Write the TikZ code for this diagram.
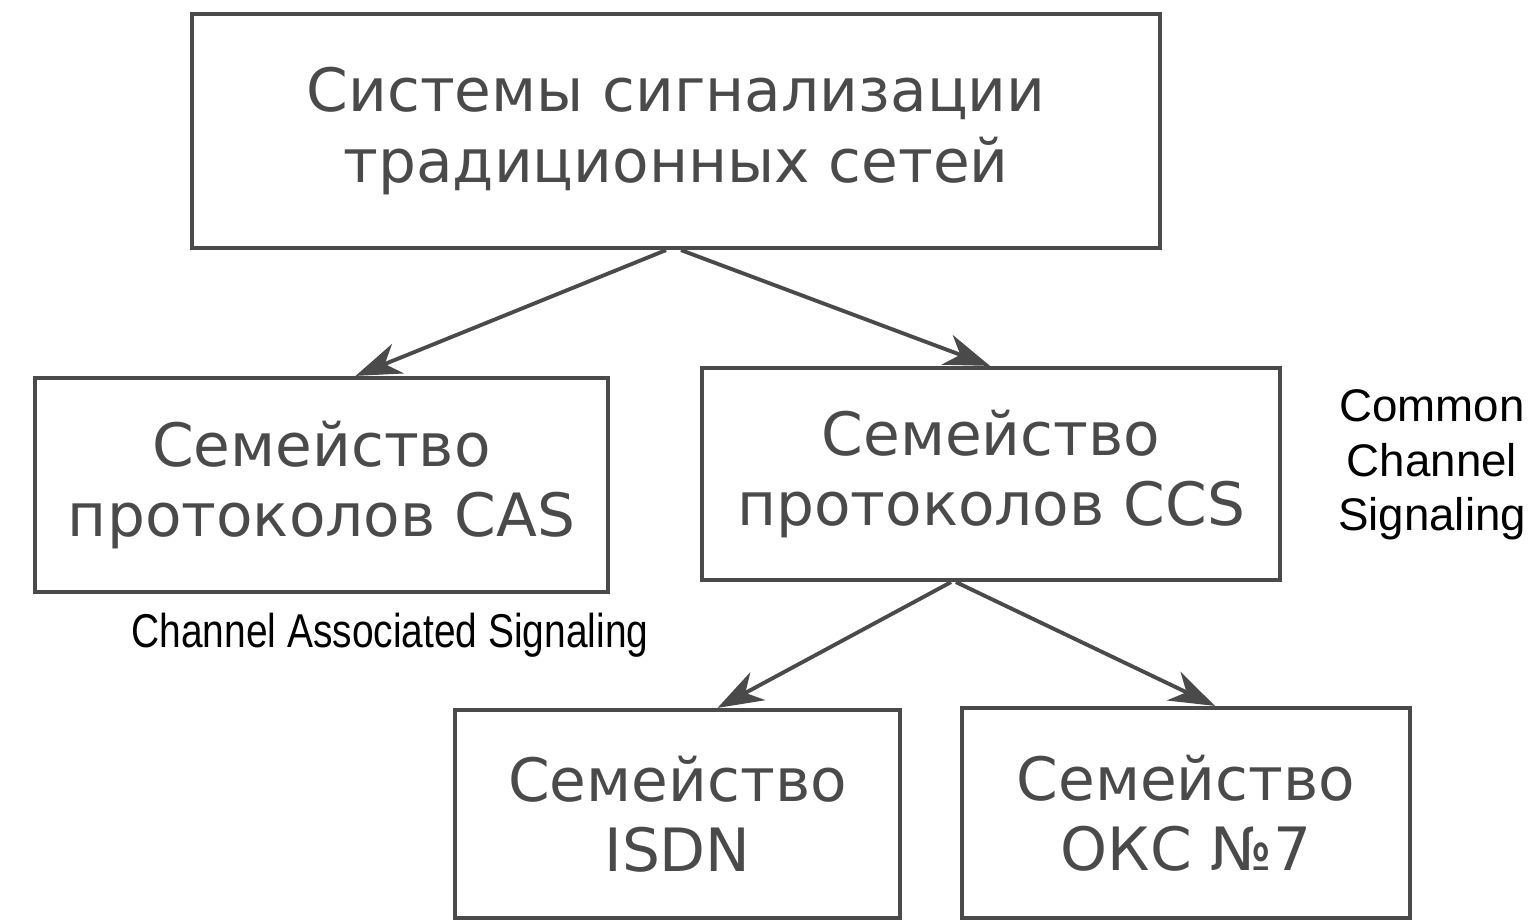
\documentclass[tikz,border=0pt]{standalone}
\usepackage{fontspec}
\setmainfont{Liberation Sans}
\newfontfamily\boxfont{DejaVu Sans}
\usepackage{tikz}
\usetikzlibrary{arrows.meta, positioning}

\definecolor{scangray}{HTML}{4A4A4A}

\begin{document}
\begin{tikzpicture}[->,>={Stealth[length=26pt,width=18pt,inset=8pt]},thick]
                \tikzset{famil/.style={draw=scangray, line width=2.4pt, align=center, text=scangray,
                          font=\boxfont\fontsize{34}{40}\selectfont, inner sep=0pt},
                         arr/.style={draw=scangray, line width=2.2pt},
                         note/.style={align=center, font=\fontsize{26}{31}\selectfont}}
                \useasboundingbox (0,0) rectangle (30.72,-18.44);
                \node[famil, minimum width=19.36cm, minimum height=4.68cm] (sys) at (13.52,-2.62)
                      {Системы сигнализации\\традиционных сетей};
                \node[famil, minimum width=11.46cm, minimum height=4.28cm] (cas) at (6.43,-9.70)
                      {Семейство\\протоколов CAS};
                \node[famil, minimum width=11.56cm, minimum height=4.24cm] (ccs) at (19.82,-9.48)
                      {Семейство\\протоколов CCS};
                \node[famil, minimum width=8.9cm, minimum height=4.16cm] (isdn) at (13.55,-16.28)
                      {Семейство\\ISDN};
                \node[famil, minimum width=8.96cm, minimum height=4.2cm] (oks) at (23.72,-16.26)
                      {Семейство\\ОКС №7};
                \node[note, font=\fontsize{27}{31}\selectfont] (casnote) at (7.8,-12.7)
                      {\scalebox{0.82}[1]{Channel Associated Signaling}};
                \node[note] (ccsnote) at (28.64,-9.3) {Common\\Channel\\Signaling};
                \draw[arr] ([xshift=-0.2cm]sys.south) -- ([xshift=0.68cm]cas.north);
                \draw[arr] ([xshift=0.1cm]sys.south) -- ([xshift=-0.02cm]ccs.north);
                \draw[arr] ([xshift=-0.8cm]ccs.south) -- ([xshift=0.8cm]isdn.north);
                \draw[arr] ([xshift=-0.7cm]ccs.south) -- ([xshift=0.58cm]oks.north);
            \end{tikzpicture}
\end{document}
